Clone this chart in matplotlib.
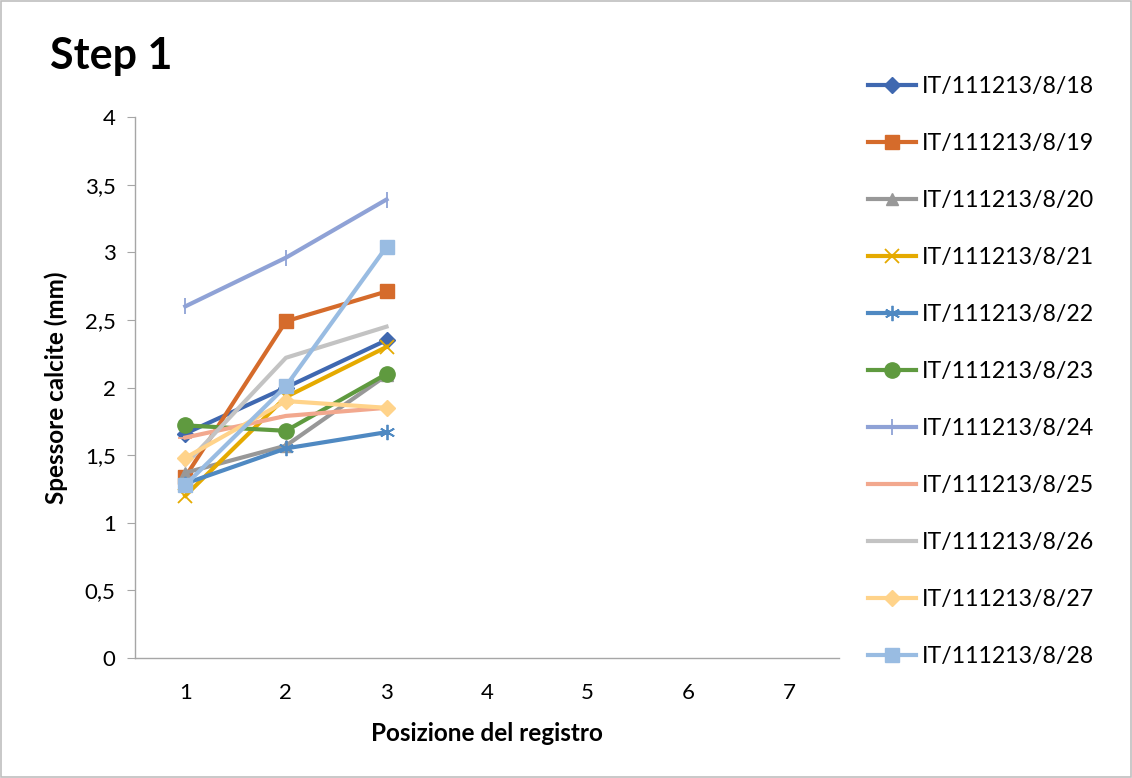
import matplotlib
matplotlib.use("Agg")
import matplotlib.pyplot as plt
from matplotlib.patches import Rectangle

plt.rcParams['font.family'] = ['Lato', 'DejaVu Sans']

positions = [1, 2, 3]
labels = ["IT/111213/8/18", "IT/111213/8/19", "IT/111213/8/20", "IT/111213/8/21",
          "IT/111213/8/22", "IT/111213/8/23", "IT/111213/8/24", "IT/111213/8/25",
          "IT/111213/8/26", "IT/111213/8/27", "IT/111213/8/28"]
s18 = [1.66, 2.00, 2.35]
s19 = [1.34, 2.49, 2.71]
s20 = [1.37, 1.57, 2.09]
s21 = [1.20, 1.93, 2.30]
s22 = [1.29, 1.55, 1.67]
s23 = [1.72, 1.68, 2.10]
s24 = [2.60, 2.96, 3.39]
s25 = [1.63, 1.79, 1.85]
s26 = [1.43, 2.22, 2.45]
s27 = [1.48, 1.90, 1.85]
s28 = [1.28, 2.01, 3.04]
series = [s18, s19, s20, s21, s22, s23, s24, s25, s26, s27, s28]

colors = ["#3F68B0", "#D56B2B", "#989898", "#E5AA00", "#4F89C2", "#5F9A3F",
          "#8FA2D6", "#F2A88E", "#C3C3C3", "#FFD38A", "#99BCE2"]
markers = ["D", "s", "^", "x", (6, 2, 0), "o", "|", "_", "None", "D", "s"]
msizes = [8, 10, 9, 10, 11, 11, 12, 10, 0, 8, 10]

fig = plt.figure(figsize=(11.32, 7.78), dpi=100)
fig.add_artist(Rectangle((0.001, 0.001), 0.998, 0.998, transform=fig.transFigure,
                         fill=False, edgecolor="#BFBFBF", linewidth=1.2))
ax = fig.add_axes([0.1193, 0.1542, 0.6220, 0.6954])

for vals, lab, c, m, ms in zip(series, labels, colors, markers, msizes):
    thin = isinstance(m, tuple) or m in ("x", "|", "_")
    ax.plot(positions, vals, color=c, linewidth=3.0, marker=m, markersize=ms,
            markerfacecolor=c, markeredgecolor=c,
            markeredgewidth=1.3 if thin else 1, label=lab)

ax.set_xlim(0.5, 7.5)
ax.set_ylim(0, 4)
ax.set_xticks(range(1, 8))
ax.set_yticks([0, 0.5, 1, 1.5, 2, 2.5, 3, 3.5, 4])
ax.set_yticklabels(["0", "0,5", "1", "1,5", "2", "2,5", "3", "3,5", "4"])
for sp in ("top", "right"):
    ax.spines[sp].set_visible(False)
for sp in ("left", "bottom"):
    ax.spines[sp].set_color("#A6A6A6")
    ax.spines[sp].set_linewidth(1.0)
ax.tick_params(axis="y", length=6, color="#A6A6A6", labelsize=16, pad=8)
ax.tick_params(axis="x", length=0, labelsize=16, pad=18)

ax.set_xlabel("Posizione del registro", fontsize=17.5, fontweight="bold", labelpad=14)
ax.set_ylabel("Spessore calcite (mm)", fontsize=17.5, fontweight="bold", labelpad=12)

fig.text(0.044, 0.928, "Step 1", fontsize=31, fontweight="bold", va="center", ha="left")

fig.legend(loc="upper left", bbox_to_anchor=(0.748, 0.929), frameon=False,
           fontsize=16.7, handlelength=2.1, handletextpad=0.25, labelspacing=1.55)

fig.savefig("out.png", dpi=100)
